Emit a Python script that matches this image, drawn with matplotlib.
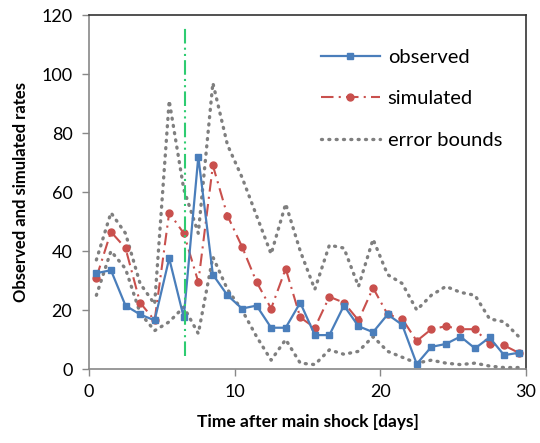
import matplotlib
matplotlib.use("Agg")
import matplotlib.pyplot as plt

plt.rcParams['font.family'] = ['Lato', 'DejaVu Sans']

# days after main shock (mid-day positions)
days = [0.5, 1.5, 2.5, 3.5, 4.5, 5.5, 6.5, 7.5, 8.5, 9.5,
        10.5, 11.5, 12.5, 13.5, 14.5, 15.5, 16.5, 17.5, 18.5, 19.5,
        20.5, 21.5, 22.5, 23.5, 24.5, 25.5, 26.5, 27.5, 28.5, 29.5]

observed = [32.5, 33.5, 21.5, 18.5, 16.5, 37.5, 17.5, 72, 32, 25,
            20.5, 21.5, 14, 14, 22.5, 11.5, 11.5, 21.5, 14.5, 12.5,
            18.5, 15, 1.7, 7.5, 8.5, 11, 7, 10.7, 4.7, 5.5]

simulated = [31, 46.5, 41, 22.5, 16.5, 53, 46, 29.5, 69, 52,
             41.5, 29.5, 20.5, 34, 17.5, 14, 24.5, 22.5, 16.5, 27.5,
             18.5, 17, 9.5, 13.5, 14.5, 13.5, 13.5, 8.5, 8, 5.5]

upper = [37, 53, 46, 29, 22, 91, 61, 46, 97, 76,
         65, 52, 39, 56, 40, 27, 42, 41, 28, 44,
         32, 29, 20, 25, 28, 26, 25, 17, 16, 11]

lower = [25, 40, 34, 19, 13, 16, 21, 12, 38, 27,
         20, 11, 3, 10, 2, 1.5, 6.5, 5, 6, 11,
         6, 4, 2, 3, 2, 1.5, 2, 1, 0.5, 0.5]

# time of the large aftershock (vertical marker)
event_day = 6.6
event_span = [4.5, 116.5]

fig = plt.figure(figsize=(5.4, 4.43), dpi=100)
ax = fig.add_axes([0.165, 0.167, 0.809, 0.799])

gray = '#7f7f7f'
dots = (0, (0.3, 1.9))
ax.plot(days, upper, color=gray, lw=2.4, linestyle=dots,
        dash_capstyle='round', label='error bounds')
ax.plot(days, lower, color=gray, lw=2.4, linestyle=dots,
        dash_capstyle='round')
ax.plot(days, simulated, color='#c9504d', lw=1.5, linestyle=(0, (6, 2.5, 1, 2.5)),
        marker='o', markersize=5, label='simulated')
ax.plot(days, observed, color='#4a7ebb', lw=1.6, marker='s', markersize=5,
        label='observed')
ax.plot([event_day, event_day], event_span, color='#2ecc71', lw=1.5,
        linestyle=(0, (7, 2, 1, 2, 1, 2)))

ax.set_xlim(0, 30)
ax.set_ylim(0, 120)
ax.set_xticks([0, 10, 20, 30])
ax.set_yticks([0, 20, 40, 60, 80, 100, 120])
ax.tick_params(labelsize=13, length=5, color='#888888', width=1)
ax.tick_params(axis='x', pad=6)
ax.tick_params(axis='y', pad=7)

for s in ['left', 'bottom']:
    ax.spines[s].set_color('#888888')
    ax.spines[s].set_linewidth(1.2)
for s in ['top', 'right']:
    ax.spines[s].set_color('#333333')
    ax.spines[s].set_linewidth(1.2)

ax.set_xlabel('Time after main shock [days]', fontsize=12.5, fontweight='bold',
              labelpad=10)
ax.set_ylabel('Observed and simulated rates', fontsize=12, fontweight='bold',
              labelpad=9)

h, l = ax.get_legend_handles_labels()
order = [2, 1, 0]
ax.legend([h[i] for i in order], [l[i] for i in order], loc='upper left',
          bbox_to_anchor=(0.49, 0.955), frameon=False, fontsize=14.5,
          handlelength=2.9, labelspacing=1.2, handletextpad=0.4)

fig.savefig('out.png', dpi=100)
